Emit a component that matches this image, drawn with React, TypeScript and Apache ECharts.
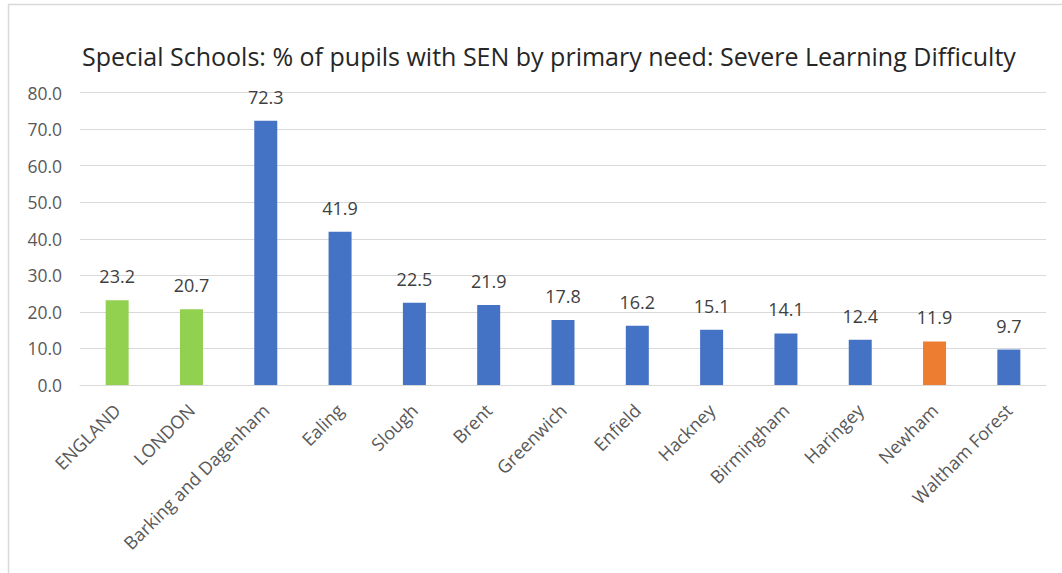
import React, { useEffect, useRef } from "react";
import * as echarts from "echarts";

const categories = [
  "ENGLAND",
  "LONDON",
  "Barking and Dagenham",
  "Ealing",
  "Slough",
  "Brent",
  "Greenwich",
  "Enfield",
  "Hackney",
  "Birmingham",
  "Haringey",
  "Newham",
  "Waltham Forest",
];

const values = [23.2, 20.7, 72.3, 41.9, 22.5, 21.9, 17.8, 16.2, 15.1, 14.1, 12.4, 11.9, 9.7];

// Comparison groups: national/regional averages, local authorities, highlighted authority
const groups = [
  "benchmark",
  "benchmark",
  "la",
  "la",
  "la",
  "la",
  "la",
  "la",
  "la",
  "la",
  "la",
  "highlight",
  "la",
];

const groupColors: Record<string, string> = {
  benchmark: "#92D050",
  la: "#4472C4",
  highlight: "#ED7D31",
};

const title =
  "Special Schools: % of pupils with SEN by primary need: Severe Learning Difficulty";

const FONT = "'Open Sans', 'Noto Sans', sans-serif";

export default function App() {
  const ref = useRef<HTMLDivElement>(null);

  useEffect(() => {
    if (!ref.current) return;
    const chart = echarts.init(ref.current, undefined, { renderer: "svg" });
    chart.setOption({
      animation: false,
      backgroundColor: "#ffffff",
      title: {
        text: title,
        left: 77,
        top: 38,
        textStyle: {
          fontFamily: FONT,
          fontSize: 25,
          fontWeight: "normal",
          color: "#262626",
        },
      },
      graphic: [
        {
          type: "line",
          shape: { x1: 8, y1: 4.5, x2: 1062, y2: 4.5 },
          style: { stroke: "#d9d9d9", lineWidth: 1.5 },
        },
        {
          type: "line",
          shape: { x1: 8.5, y1: 4, x2: 8.5, y2: 573 },
          style: { stroke: "#d9d9d9", lineWidth: 1.5 },
        },
      ],
      grid: { left: 80, right: 16, top: 92.5, bottom: 188 },
      xAxis: {
        type: "category",
        data: categories,
        axisLine: { lineStyle: { color: "#d9d9d9" } },
        axisTick: { show: false },
        axisLabel: {
          rotate: 45,
          interval: 0,
          margin: 22,
          fontFamily: FONT,
          fontSize: 18,
          color: "#595959",
        },
      },
      yAxis: {
        type: "value",
        min: 0,
        max: 80,
        interval: 10,
        axisLine: { show: false },
        axisTick: { show: false },
        splitLine: { lineStyle: { color: "#d9d9d9" } },
        axisLabel: {
          formatter: (v: number) => v.toFixed(1),
          margin: 18,
          fontFamily: FONT,
          fontSize: 17.5,
          color: "#595959",
        },
      },
      series: [
        {
          type: "bar",
          barWidth: 23,
          data: values.map((v, i) => ({
            value: v,
            itemStyle: { color: groupColors[groups[i]] },
          })),
          label: {
            show: true,
            position: "top",
            distance: 15,
            formatter: (p: any) => Number(p.value).toFixed(1),
            fontFamily: FONT,
            fontSize: 18,
            color: "#404040",
          },
        },
      ],
    });
    return () => chart.dispose();
  }, []);

  return (
    <div
      ref={ref}
      style={{ position: "fixed", left: 0, top: 0, width: 1062, height: 573 }}
    />
  );
}
